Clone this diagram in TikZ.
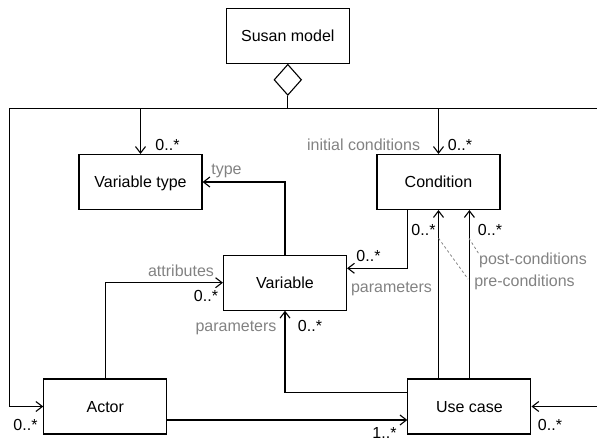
\documentclass[tikz,border=0pt]{standalone}
\usepackage{fontspec}
\setmainfont{Liberation Sans}
\usetikzlibrary{arrows.meta,shapes.geometric}
\definecolor{lblgray}{RGB}{130,130,130}
\begin{document}
\begin{tikzpicture}[x=1pt,y=-1pt,
  every node/.style={font=\fontsize{16}{19}\selectfont, text height=11.5pt, text depth=0pt, inner sep=0pt},
  umlbox/.style={draw, line width=1.1pt, minimum width=123pt, minimum height=55pt},
  conn/.style={line width=1.1pt},
  arr/.style={conn, -{Straight Barb[length=6.5pt,width=10pt,line width=1.1pt]}},
  mult/.style={text=black},
  role/.style={text=lblgray},
  noteline/.style={draw=lblgray, line width=0.8pt, dash pattern=on 2.5pt off 2.5pt}
]
\useasboundingbox (0,0) rectangle (597,441);

% classes
\node[umlbox] (susan) at (287.8,35.7) {Susan model};
\node[umlbox] (vtype) at (140.5,182) {Variable type};
\node[umlbox] (cond)  at (438.5,182) {Condition};
\node[umlbox] (var)   at (285,282.7) {Variable};
\node[umlbox] (actor) at (105.3,406.5) {Actor};
\node[umlbox] (uc)    at (469.4,406.5) {Use case};

% aggregation diamond
\node[draw, line width=1.1pt, diamond, minimum width=27.5pt, minimum height=31pt, text height=0pt, anchor=north] (dia) at (susan.south) {};

% bus of the composition
\coordinate (busL) at (9.5,108.3);
\coordinate (busR) at (597,108.3);
\coordinate (edgeR) at (597,406.5);
\draw[conn] (dia.south) -- (dia.south |- busL);
\draw[conn] (busL) -- (busR);
\draw[arr] (busL) |- (actor.west);
\draw[arr] (vtype.north |- busL) -- (vtype.north);
\draw[arr] (cond.north |- busL) -- (cond.north);
\draw[arr] (edgeR) -- (uc.east);

% associations
\draw[arr] (var.north) |- (vtype.east);
\draw[arr] ([xshift=-30.7pt]cond.south) |- ([yshift=14.4pt]var.east);
\draw[arr] (actor.north) |- (var.west);
\draw[arr] ([yshift=13.8pt]uc.west) -| (var.south);
\draw[arr] (uc.north -| cond.south) -- (cond.south);
\draw[arr] (uc.north) -- (uc.north |- cond.south);
\draw[arr] ([yshift=-13.5pt]actor.east) -- ([yshift=-13.5pt]actor.east -| uc.west);

% multiplicities
\node[mult] (m1) at (167.5,145) {0..*};
\node[mult] (m2) at (460,145) {0..*};
\node[mult] (m3) at (368.5,256) {0..*};
\node[mult] (m4) at (423.5,230) {0..*};
\node[mult] (m5) at (490,230) {0..*};
\node[mult] (m6) at (206,296) {0..*};
\node[mult] (m7) at (310,325.7) {0..*};
\node[mult] (m8) at (384.5,432.5) {1..*};
\node[mult] (m9) at (25.5,425) {0..*};
\node[mult] (m10) at (550,425) {0..*};

% role names
\node[role] (r1) at (363.6,145) {initial conditions};
\node[role] (r2) at (226.5,169) {type};
\node[role] (r3) at (391.5,286.7) {parameters};
\node[role] (post) at (533,259) {post-conditions};
\node[role] (pre) at (524.5,281) {pre-conditions};
\node[role] (r4) at (181,270.7) {attributes};
\node[role] (r5) at (236,325.7) {parameters};

% dashed leaders
\coordinate (preA) at (438.6,238.3);
\coordinate (postA) at (469,238.3);
\draw[noteline] (preA) -- ([shift={(-6pt,-4pt)}]pre.north west);
\draw[noteline] (postA) -- ([shift={(0pt,-1pt)}]post.north west);
\end{tikzpicture}
\end{document}
